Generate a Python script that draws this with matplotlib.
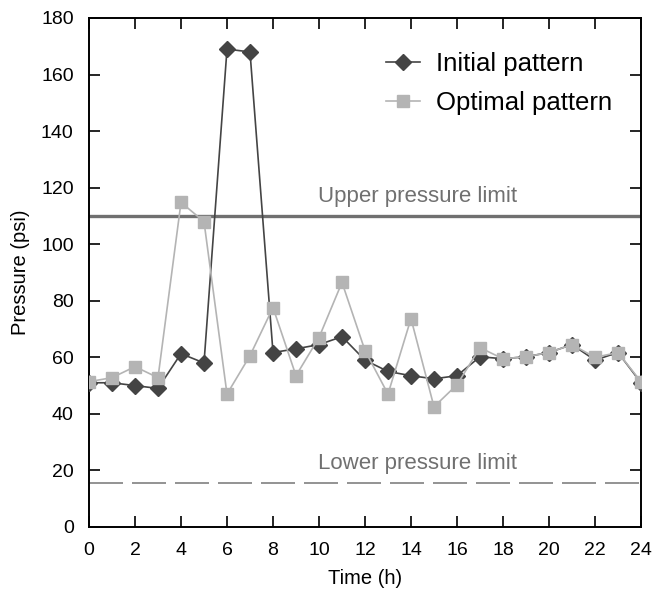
import matplotlib
matplotlib.use("Agg")
import matplotlib.pyplot as plt

plt.rcParams['font.family'] = ['Liberation Sans', 'DejaVu Sans']

# Data
hours = list(range(25))
initial = [51, 51, 50, 49, 61.3, 58, 169, 168, 61.7, 63, 64.5, 67.3, 59, 55,
           53.5, 52.4, 53.5, 60.2, 59.5, 60.2, 61.7, 64.5, 59, 61.7, 51]
optimal = [51.4, 52.8, 56.7, 52.8, 114.8, 108, 47, 60.6, 77.6, 53.5, 67, 86.5,
           62.4, 47, 73.7, 42.5, 50.3, 63.4, 59.5, 60.2, 61.7, 64.5, 60, 61.7, 51.4]
upper_limit = 110
lower_limit = 15.5

fig = plt.figure(figsize=(6.53, 6.0), dpi=100)
ax = fig.add_axes([0.1363, 0.1217, 0.8453, 0.8483])

ax.axhline(upper_limit, color='#707070', lw=2.4, zorder=1)
ax.axhline(lower_limit, color='#808080', lw=1.2, dashes=(20.4, 5.4), zorder=1)
ax.text(14.3, upper_limit + 3.2, "Upper pressure limit", color='#707070',
        fontsize=16, ha='center', va='bottom')
ax.text(14.3, lower_limit + 3.2, "Lower pressure limit", color='#707070',
        fontsize=16, ha='center', va='bottom')

ax.plot(hours, initial, color='#444444', lw=1.2, marker='D', markersize=8.5,
        label="Initial pattern", zorder=3)
ax.plot(hours, optimal, color='#b4b4b4', lw=1.2, marker='s', markersize=8,
        label="Optimal pattern", zorder=4)

ax.set_xlim(0, 24)
ax.set_ylim(0, 180)
ax.set_xticks(range(0, 25, 2))
ax.set_yticks(range(0, 181, 20))
ax.tick_params(direction='in', length=8, width=1.2, top=True, right=True,
               labelsize=14, pad=11)
for s in ax.spines.values():
    s.set_linewidth(1.4)

ax.set_xlabel("Time (h)", fontsize=14.5, labelpad=7)
ax.set_ylabel("Pressure (psi)", fontsize=14.5, labelpad=8)

leg = ax.legend(loc='upper right', frameon=False, fontsize=18.5,
                handlelength=1.3, handletextpad=0.65, labelspacing=0.58,
                bbox_to_anchor=(0.99, 0.978))

fig.savefig("out.png", dpi=100)
